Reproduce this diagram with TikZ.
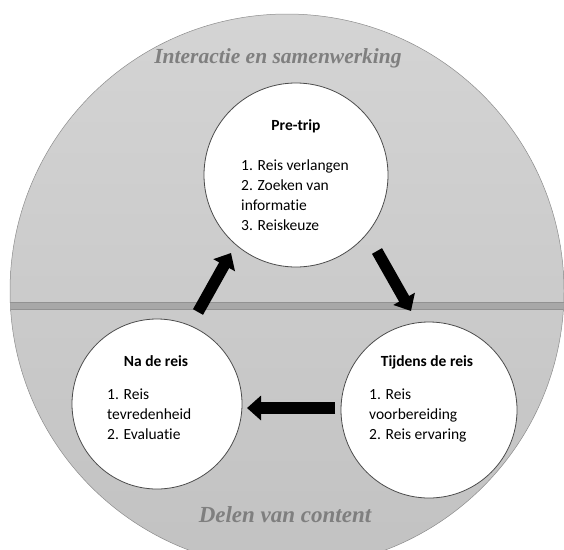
\documentclass[tikz,border=0pt]{standalone}
\usepackage{fontspec}
\setmainfont{Carlito}[Ligatures=NoCommon]
\newfontfamily\ringfont{Liberation Serif}
\usetikzlibrary{arrows.meta}

\definecolor{ringtop}{HTML}{D4D4D4}
\definecolor{ringbottom}{HTML}{C2C2C2}
\definecolor{bandgrey}{HTML}{A8A8A8}
\definecolor{bandline}{HTML}{929292}
\definecolor{ringtext}{HTML}{7F7F7F}

\tikzset{
  stage/.style={circle, draw=black!70, line width=0.8pt, fill=white, minimum size=#1},
  stagetitle/.style={font=\fontsize{15.5}{20}\selectfont\bfseries},
  stagelist/.style={font=\fontsize{15.5}{20}\selectfont, align=left, anchor=west, inner sep=0pt},
  ringlabel/.style={font=\ringfont\fontsize{#1}{26}\selectfont\bfseries\itshape, text=ringtext},
  flow/.style={line width=11.5pt, -{Triangle[length=14pt,width=24pt]}}
}

\begin{document}
\begin{tikzpicture}[x=1pt,y=-1pt]
\useasboundingbox (0,0) rectangle (564,549);
\clip (0,0) rectangle (564,549);

% Outer ring
\shade[top color=ringtop, bottom color=ringbottom, draw=black!45, line width=0.5pt]
  (287,291) circle (277);

% Divider band
\begin{scope}
\clip (287,291) circle (277);
\fill[bandgrey] (0,302) rectangle (564,309);
\draw[bandline, line width=0.6pt] (0,302) -- (564,302) (0,309) -- (564,309);
\end{scope}

\node[ringlabel=21.5] (interactie) at (278,58) {Interactie en samenwerking};
\node[ringlabel=23] (delen) at (285,515) {Delen van content};

% Stages
\node[stage=184pt] (pretrip) at (296,175) {};
\node[stagetitle] (pretrip-title) at (296,126) {Pre-trip};
\node[stagelist] (pretrip-list) at (241,195) {1. Reis verlangen\\2. Zoeken van\\informatie\\3. Reiskeuze};

\node[stage=170pt] (nadereis) at (157,404) {};
\node[stagetitle] (nadereis-title) at (156,361) {Na de reis};
\node[stagelist] (nadereis-list) at (107,414) {1. Reis\\tevredenheid\\2. Evaluatie};

\node[stage=176pt] (tijdens) at (429,410) {};
\node[stagetitle] (tijdens-title) at (427,362) {Tijdens de reis};
\node[stagelist] (tijdens-list) at (369,415) {1. Reis\\voorbereiding\\2. Reis ervaring};

% Arrows
\coordinate (up-from) at (198,312);
\coordinate (up-to) at (231,253);
\coordinate (down-from) at (377,251);
\coordinate (down-to) at (411,311);
\coordinate (left-from) at (335,408);
\coordinate (left-to) at (247,408);
\draw[flow] (up-from) -- (up-to);
\draw[flow] (down-from) -- (down-to);
\draw[flow] (left-from) -- (left-to);
\end{tikzpicture}
\end{document}
